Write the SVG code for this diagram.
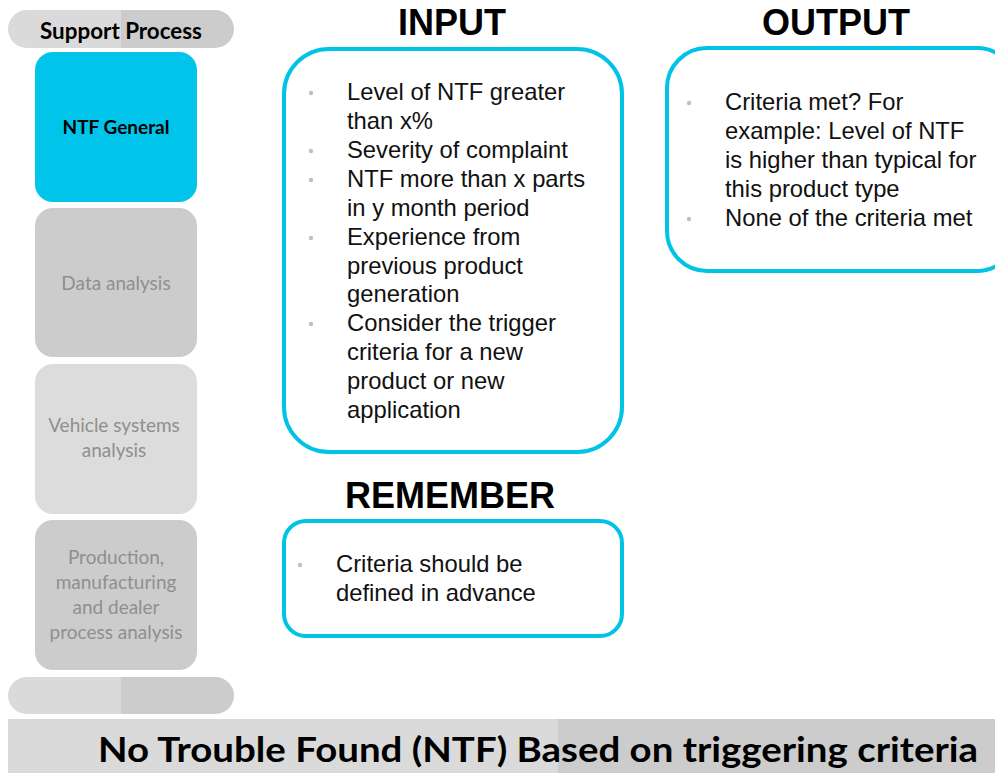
<svg xmlns="http://www.w3.org/2000/svg" width="995" height="773" viewBox="0 0 995 773">
  <style>
    .step { font-family: Lato, "Liberation Sans", sans-serif; font-size: 19px; text-anchor: middle; fill: #8f8f8f; }
    .head { font-family: "Liberation Sans", Arial, sans-serif; font-size: 36px; font-weight: bold; text-anchor: middle; fill: #000; }
    .body { font-family: "Liberation Sans", Arial, sans-serif; font-size: 23.8px; fill: #111; }
    .frame { fill: #fff; stroke: #00c3e6; stroke-width: 4; }
    .dot { fill: #c0c0c0; }
  </style>
  <defs>
    <clipPath id="pillTop"><rect x="8" y="10" width="226" height="38" rx="19"/></clipPath>
    <clipPath id="pillBottom"><rect x="8" y="677" width="226" height="37" rx="18.5"/></clipPath>
  </defs>

  <!-- left column: process steps -->
  <g id="support-process">
    <g clip-path="url(#pillTop)">
      <rect x="8" y="10" width="113" height="38" fill="#dadada"/>
      <rect x="121" y="10" width="113" height="38" fill="#cccccc"/>
    </g>
    <text x="121" y="39" font-family="Lato, 'Liberation Sans', sans-serif" font-size="22.4" font-weight="bold" text-anchor="middle" fill="#000">Support Process</text>
  </g>
  <g id="ntf-general">
    <rect x="35" y="52" width="162" height="150" rx="18" fill="#00c4ea"/>
    <text x="116" y="134" font-family="Lato, 'Liberation Sans', sans-serif" font-size="19" font-weight="bold" text-anchor="middle" fill="#000">NTF General</text>
  </g>
  <g id="data-analysis">
    <rect x="35" y="208" width="162" height="149" rx="18" fill="#cccccc"/>
    <text class="step" x="116" y="290">Data analysis</text>
  </g>
  <g id="vehicle-systems">
    <rect x="35" y="364" width="162" height="150" rx="18" fill="#dcdcdc"/>
    <text class="step" x="114" y="432">Vehicle systems</text>
    <text class="step" x="114" y="457">analysis</text>
  </g>
  <g id="production">
    <rect x="35" y="520" width="162" height="150" rx="18" fill="#cccccc"/>
    <text class="step" x="116" y="564">Production,</text>
    <text class="step" x="116" y="589">manufacturing</text>
    <text class="step" x="116" y="614">and dealer</text>
    <text class="step" x="116" y="639">process analysis</text>
  </g>
  <g id="bottom-pill" clip-path="url(#pillBottom)">
    <rect x="8" y="677" width="113" height="37" fill="#dadada"/>
    <rect x="121" y="677" width="113" height="37" fill="#cccccc"/>
  </g>

  <!-- input panel -->
  <g id="input">
    <text class="head" x="452" y="35">INPUT</text>
    <rect class="frame" x="284" y="49" width="338" height="403" rx="45"/>
    <circle class="dot" cx="311" cy="93" r="2.2"/>
    <circle class="dot" cx="311" cy="151" r="2.2"/>
    <circle class="dot" cx="311" cy="180" r="2.2"/>
    <circle class="dot" cx="311" cy="238" r="2.2"/>
    <circle class="dot" cx="311" cy="324" r="2.2"/>
    <text class="body" x="347" y="100">Level of NTF greater</text>
    <text class="body" x="347" y="129">than x%</text>
    <text class="body" x="347" y="158">Severity of complaint</text>
    <text class="body" x="347" y="187">NTF more than x parts</text>
    <text class="body" x="347" y="216">in y month period</text>
    <text class="body" x="347" y="245">Experience from</text>
    <text class="body" x="347" y="274">previous product</text>
    <text class="body" x="347" y="302">generation</text>
    <text class="body" x="347" y="331">Consider the trigger</text>
    <text class="body" x="347" y="360">criteria for a new</text>
    <text class="body" x="347" y="389">product or new</text>
    <text class="body" x="347" y="418">application</text>
  </g>

  <!-- output panel -->
  <g id="output">
    <text class="head" x="836" y="35">OUTPUT</text>
    <rect class="frame" x="667" y="48" width="350" height="223" rx="40"/>
    <circle class="dot" cx="689" cy="103" r="2.2"/>
    <circle class="dot" cx="689" cy="219" r="2.2"/>
    <text class="body" x="725" y="110">Criteria met? For</text>
    <text class="body" x="725" y="139">example: Level of NTF</text>
    <text class="body" x="725" y="168">is higher than typical for</text>
    <text class="body" x="725" y="197">this product type</text>
    <text class="body" x="725" y="226">None of the criteria met</text>
  </g>

  <!-- remember panel -->
  <g id="remember">
    <text class="head" x="450" y="508">REMEMBER</text>
    <rect class="frame" x="284" y="521" width="338" height="115" rx="22"/>
    <circle class="dot" cx="300" cy="565" r="2.2"/>
    <text class="body" x="336" y="572">Criteria should be</text>
    <text class="body" x="336" y="601">defined in advance</text>
  </g>

  <!-- title bar -->
  <g id="title">
    <rect x="8" y="719" width="550" height="54" fill="#dadada"/>
    <rect x="558" y="719" width="437" height="54" fill="#cccccc"/>
    <text x="98" y="762" font-family="Lato, 'Liberation Sans', sans-serif" font-size="34" font-weight="bold" fill="#000" textLength="880" lengthAdjust="spacingAndGlyphs">No Trouble Found (NTF) Based on triggering criteria</text>
  </g>
</svg>
